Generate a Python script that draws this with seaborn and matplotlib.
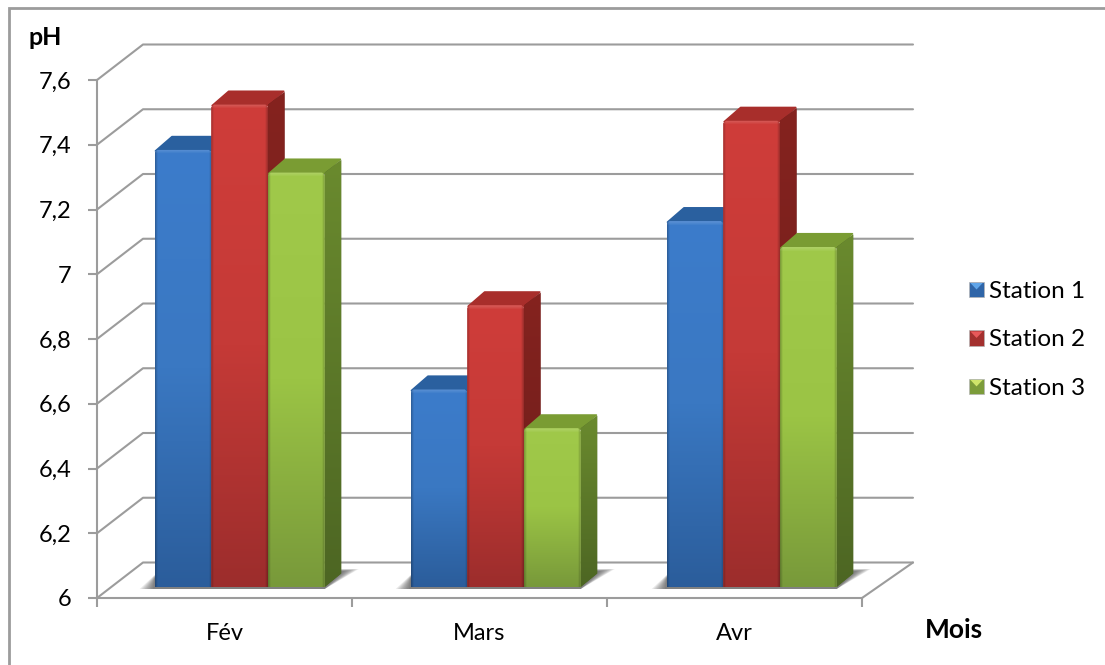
import matplotlib
matplotlib.use("Agg")
import matplotlib.pyplot as plt
import numpy as np
import pandas as pd
import seaborn as sns
from matplotlib.colors import to_rgb
from matplotlib.legend_handler import HandlerBase
from matplotlib.lines import Line2D
from matplotlib.patches import Patch, Polygon

# Monthly pH at the three sampling stations
months = ["Fév", "Mars", "Avr"]
station_1 = [7.35, 6.61, 7.13]
station_2 = [7.49, 6.87, 7.44]
station_3 = [7.28, 6.49, 7.05]
stations = ["Station 1", "Station 2", "Station 3"]
y_ticks = [6.0, 6.2, 6.4, 6.6, 6.8, 7.0, 7.2, 7.4, 7.6]
y_tick_labels = ["6", "6,2", "6,4", "6,6", "6,8", "7", "7,2", "7,4", "7,6"]

# Face colours per series: front (top, middle, bottom), side (top, bottom), cap
FRONT = [("#3c7ccb", "#3a78c2", "#2b5d9b"),
         ("#cf3d3a", "#c53a37", "#9c2d2c"),
         ("#a0c94a", "#9bc445", "#78993a")]
SIDE = [("#2b5a94", "#224a7c"), ("#85231f", "#6a1c1a"), ("#6a8a2e", "#4d6623")]
CAP = ["#2a609f", "#a82e2b", "#7a9c33"]
LEGEND_LIGHT = ["#5fa5ea", "#e8595a", "#cfe56a"]
LEGEND_DARK = ["#2f65a8", "#a3302e", "#7c9c3a"]
GREY = "#9c9c9c"
LW = 1.5

W, H = 1105, 665
sns.set_theme(style="white")
plt.rcParams["font.family"] = ["Lato", "DejaVu Sans"]
fig = plt.figure(figsize=(W / 100, H / 100), dpi=100, facecolor="white")


def px_rect(left, right, top, bottom):
    return [left / W, 1 - bottom / H, (right - left) / W, (bottom - top) / H]


# Axes frame with its projected back wall
ax = fig.add_axes(px_rect(97, 862, 80, 598), zorder=1)
ax.set_xlim(-0.5, 2.5)
ax.set_ylim(6, 7.6)
px_x = 3 / 765
px_y = 1.6 / 518
wall_left, wall_right, wall_dy = 46 * px_x, 51 * px_x, 35.5 * px_y
for v in y_ticks:
    ax.plot([-0.5, -0.5 + wall_left, 2.5 + wall_right],
            [v, v + wall_dy, v + wall_dy],
            color=GREY, lw=LW, clip_on=False, solid_joinstyle="round")
ax.plot([2.5, 2.5 + wall_right], [6, 6 + wall_dy], color=GREY, lw=LW, clip_on=False)

for name in ("top", "right"):
    ax.spines[name].set_visible(False)
for name in ("left", "bottom"):
    ax.spines[name].set_color(GREY)
    ax.spines[name].set_linewidth(LW)
ax.set_yticks(y_ticks, y_tick_labels)
ax.set_xticks([-0.5, 0.5, 1.5, 2.5], [""] * 4)
ax.set_xticks([0, 1, 2], months, minor=True)
ax.tick_params(axis="y", length=6.5, width=LW, color=GREY, pad=12,
               labelsize=17, labelcolor="black", left=True)
ax.tick_params(axis="x", which="major", length=6.5, width=LW, color=GREY, bottom=True)
ax.tick_params(axis="x", which="minor", length=0, pad=17.7, labelsize=17, labelcolor="black")

# Bars stand mid-way on the floor, so their axes sit slightly up and to the right
bar_ax = fig.add_axes(px_rect(111.7, 879.7, 69, 587), zorder=2)
bar_ax.patch.set_alpha(0)
df = pd.DataFrame({
    "Mois": months * 3,
    "Station": np.repeat(stations, 3),
    "pH": station_1 + station_2 + station_3,
})
sns.barplot(data=df, x="Mois", y="pH", hue="Station", hue_order=stations,
            palette=[f[0] for f in FRONT], saturation=1, width=0.664, gap=0,
            legend=False, ax=bar_ax)
bar_ax.set_xlim(-0.5, 2.5)
bar_ax.set_ylim(6, 7.6)
bar_ax.axis("off")

bar_px_x = 3 / 768
depth_x, depth_y = 16.5 * bar_px_x, 13.5 * px_y


def gradient_poly(axis, xy, top, bottom, z):
    """Fill a polygon with a vertical two-colour gradient."""
    xy = np.asarray(xy)
    img = np.linspace(to_rgb(top), to_rgb(bottom), 64)[:, None, :]
    axis.add_patch(Polygon(xy, closed=True, fc=bottom, ec="none", zorder=z, clip_on=False))
    im = axis.imshow(img, extent=(xy[:, 0].min(), xy[:, 0].max(), xy[:, 1].min(), xy[:, 1].max()),
                     origin="upper", aspect="auto", interpolation="bilinear", zorder=z + 0.01)
    im.set_clip_path(Polygon(xy, closed=True, transform=axis.transData))


def front_face(axis, bar, colours, z):
    """Paint a bar's front with a shaded gradient, soft bevels and eased top corners."""
    x0, x1 = bar.get_x(), bar.get_x() + bar.get_width()
    y1 = bar.get_height()
    nx = int(round((x1 - x0) / bar_px_x))
    ny = max(int(round((y1 - 6) / px_y)), 2)
    t = np.linspace(0, 1, ny)
    stops = np.array([to_rgb(c) for c in colours])
    col = np.stack([np.interp(t, [0, 0.5, 1], stops[:, k]) for k in range(3)], axis=1)
    img = np.repeat(col[:, None, :], nx, axis=1)
    edge = np.minimum(np.arange(nx), np.arange(nx)[::-1])
    shade = 1 - 0.22 * np.clip(1 - edge / 2.5, 0, 1)
    img = img * shade[None, :, None]
    glow = np.clip(1 - np.arange(ny) / 4.0, 0, 1)[:, None, None]
    img = img + (1 - img) * 0.16 * glow
    cx, cy = 2.5 * bar_px_x, 2.5 * px_y
    outline = Polygon([(x0, 6), (x0, y1 - cy), (x0 + cx, y1), (x1 - cx, y1),
                       (x1, y1 - cy), (x1, 6)], closed=True, transform=axis.transData)
    bar.set_clip_path(outline)
    im = axis.imshow(np.clip(img, 0, 1), extent=(x0, x1, 6, y1), origin="upper",
                     aspect="auto", interpolation="bilinear", zorder=z)
    im.set_clip_path(outline)


series_z = 3
for s, container in enumerate(bar_ax.containers):
    for bar in container:
        bar.set_zorder(series_z)
        bar.set_edgecolor("none")
        x0, x1 = bar.get_x(), bar.get_x() + bar.get_width()
        y1 = bar.get_height()
        inset = 0.8 * bar_px_x
        cap = [(x0 + inset, y1 - 1 * px_y), (x0 + depth_x + inset, y1 + depth_y - 0.2 * px_y),
               (x1 + depth_x - inset, y1 + depth_y - 0.2 * px_y), (x1 - inset, y1 - 1 * px_y)]
        bar_ax.add_patch(Polygon(cap, closed=True, fc=CAP[s], ec=CAP[s], lw=1.2,
                                 joinstyle="round", zorder=series_z - 0.3, clip_on=False))
        side = [(x1, 6), (x1, y1), (x1 + depth_x, y1 + depth_y - 1 * px_y), (x1 + depth_x, 6 + depth_y)]
        gradient_poly(bar_ax, side, SIDE[s][0], SIDE[s][1], series_z - 0.2)
        front_face(bar_ax, bar, FRONT[s], series_z + 0.1)
    series_z += 1

# Soft shadow cast on the floor behind each cluster
for g in range(len(months)):
    left = bar_ax.containers[0][g].get_x()
    last = bar_ax.containers[2][g]
    right = last.get_x() + last.get_width()
    for k in range(9):
        f = k / 8
        pts = [(left - (15 - 13 * f) * bar_px_x, 6 - 2 * px_y),
               (right, 6 - 2 * px_y),
               (right + (34 - 14 * f) * bar_px_x, 6 + (18 - 2 * f) * px_y),
               (right + depth_x, 6 + (18 - 2 * f) * px_y),
               (left, 6 + (12 - 3 * f) * px_y)]
        bar_ax.add_patch(Polygon(pts, closed=True, fc="#3a3a3a", ec="none",
                                 alpha=0.1, zorder=1, clip_on=False))
bar_ax.set_xlim(-0.5, 2.5)
bar_ax.set_ylim(6, 7.6)


class PyramidHandler(HandlerBase):
    """Legend key drawn as a small bevelled square."""

    def create_artists(self, legend, orig_handle, xdescent, ydescent, width, height, fontsize, trans):
        s = stations.index(orig_handle.get_label())
        x0, y0 = -xdescent, -ydescent
        x1, y1 = x0 + width, y0 + height
        cx, cy = (x0 + x1) / 2, (y0 + y1) / 2
        base = Polygon([(x0, y0), (x1, y0), (x1, y1), (x0, y1)], closed=True,
                       fc=LEGEND_DARK[s], ec="#b5b5b5", lw=0.5, transform=trans)
        light = Polygon([(x0 + 1, y1 - 1), (x1 - 1, y1 - 1), (cx, cy)], closed=True,
                        fc=LEGEND_LIGHT[s], ec="none", transform=trans)
        return [base, light]


handles = [Patch(label=name) for name in stations]
bar_ax.legend(handles=handles, handler_map={Patch: PyramidHandler()},
              loc="center left", bbox_to_anchor=(969 / W, 1 - 340 / H),
              bbox_transform=fig.transFigure, frameon=False, fontsize=17.5,
              handlelength=0.62, handleheight=0.62, handletextpad=0.2,
              labelspacing=1.13, borderpad=0, borderaxespad=0, labelcolor="black")

fig.text(45.5 / W, 1 - 45 / H, "pH", fontsize=18, fontweight="bold", ha="center", va="baseline", color="black")
fig.text(953.5 / W, 1 - 638 / H, "Mois", fontsize=19, fontweight="bold", ha="center", va="baseline", color="black")

# Open frame along the left and top of the chart area
fig.add_artist(Line2D([9 / W, 9 / W, 1], [0, 1 - 7.5 / H, 1 - 7.5 / H], color=GREY, lw=2,
                      solid_joinstyle="miter", transform=fig.transFigure))

fig.savefig("out.png", dpi=100, facecolor="white")
